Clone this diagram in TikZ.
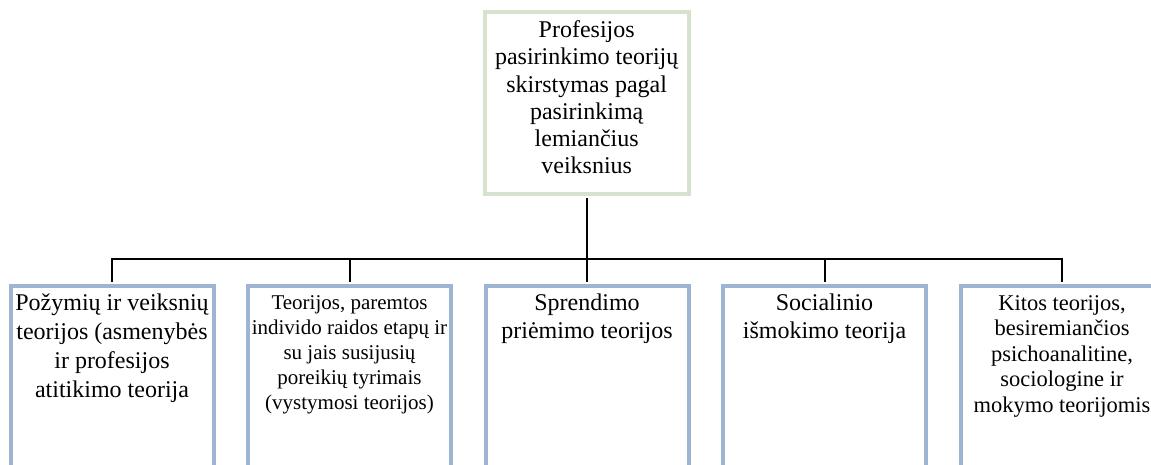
\documentclass[tikz,border=0pt]{standalone}
\usepackage{fontspec}
\setmainfont{Liberation Serif}
\newfontfamily\tnr{Liberation Serif}
\definecolor{boxgreen}{HTML}{D5E3CE}
\definecolor{boxblue}{HTML}{9DB4D3}
\begin{document}
\begin{tikzpicture}[x=1pt,y=1pt,
  topbox/.style={draw=boxgreen, line width=4pt, minimum width=204pt, minimum height=182pt, inner sep=0pt},
  subbox/.style={draw=boxblue, line width=4pt, minimum width=203pt, minimum height=215pt, inner sep=0pt, anchor=north},
  txt/.style={align=center, inner sep=0pt, anchor=north},
  bigA/.style={txt, font=\tnr\fontsize{24}{27.2}\selectfont},
  bigB/.style={txt, font=\tnr\fontsize{24}{29}\selectfont},
  bigC/.style={txt, font=\tnr\fontsize{24}{28.3}\selectfont},
  smallA/.style={txt, font=\tnr\fontsize{21}{25}\selectfont},
  smallB/.style={txt, font=\tnr\fontsize{22.5}{25.6}\selectfont},
  link/.style={line width=2pt, black}]
\useasboundingbox (0,0) rectangle (1151,465);
\clip (0,0) rectangle (1151,465);
\node[topbox] (top) at (586.7,362) {};
\node[subbox] (b1) at (112,181) {};
\node[subbox] (b2) at (349.5,181) {};
\node[subbox] (b3) at (587,181) {};
\node[subbox] (b4) at (824.5,181) {};
\node[subbox] (b5) at (1062,181) {};
\node[bigA] (ttop) at ([yshift=-10.6pt]top.north) {Profesijos\\pasirinkimo teorijų\\skirstymas pagal\\pasirinkimą\\lemiančius\\veiksnius};
\node[bigB] (t1) at ([yshift=-9.6pt]b1.north) {Požymių ir veiksnių\\teorijos (asmenybės\\ir profesijos\\atitikimo teorija};
\node[smallA] (t2) at ([yshift=-11.7pt]b2.north) {Teorijos, paremtos\\individo raidos etapų ir\\su jais susijusių\\poreikių tyrimais\\(vystymosi teorijos)};
\node[bigC] (t3) at ([yshift=-9.6pt]b3.north) {Sprendimo\\priėmimo teorijos};
\node[bigC] (t4) at ([yshift=-9.6pt]b4.north) {Socialinio\\išmokimo teorija};
\node[smallB] (t5) at ([yshift=-11pt]b5.north) {Kitos teorijos,\\besiremiančios\\psichoanalitine,\\sociologine ir\\mokymo teorijomis};
\coordinate (bus) at (0,206);
\draw[link, shorten <=2pt] (top.south) -- (top.south |- bus);
\draw[link, shorten <=2pt, shorten >=2pt] (b1.north) -- (b1.north |- bus) -| (b5.north);
\foreach \n in {b2,b3,b4} \draw[link, shorten <=2pt] (\n.north) -- (\n.north |- bus);
\end{tikzpicture}
\end{document}
